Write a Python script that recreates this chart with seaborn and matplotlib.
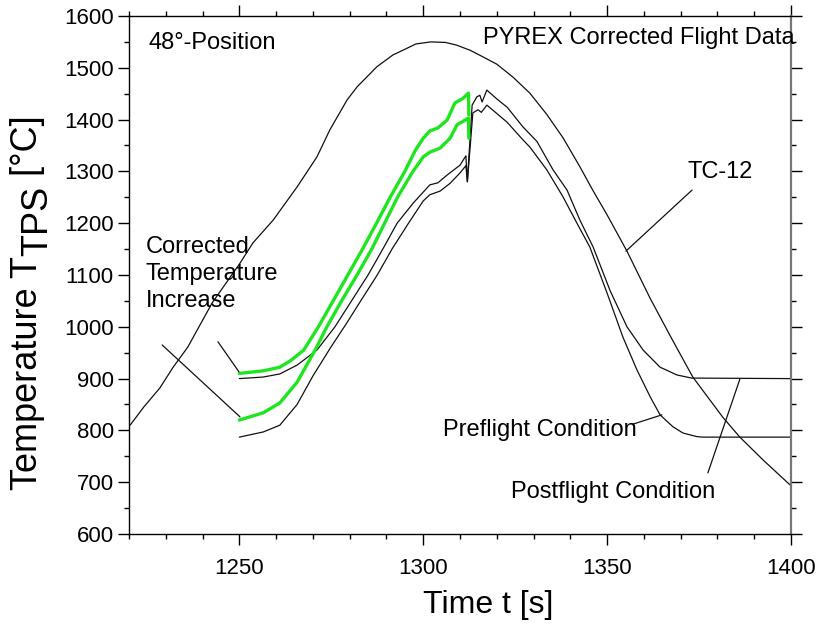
import numpy as np
import pandas as pd
import matplotlib
matplotlib.use('Agg')
import matplotlib.pyplot as plt
import seaborn as sns

# TC-12 thermocouple
tc12_t = [1220.3, 1224, 1228.4, 1232, 1236, 1242.6, 1250.2, 1253.7, 1259.2, 1265.7, 1271.1,
          1274.6, 1279.3, 1282, 1287.4, 1291.8, 1294.5, 1298, 1302, 1306, 1309, 1312.7,
          1316, 1320, 1324.4, 1329, 1333.6, 1338, 1342.6, 1346, 1350, 1355.4, 1361.7, 1367.5,
          1373.3, 1381.5, 1386.1, 1392.4, 1399.7]
tc12_T = [810, 845, 882, 922, 961, 1046, 1123, 1162, 1206, 1270, 1328,
          1380, 1438, 1463, 1502, 1525, 1534, 1546, 1550, 1549, 1544, 1534,
          1522, 1507, 1482, 1451, 1410, 1365, 1309, 1265, 1216, 1146, 1055, 978,
          903, 825, 787, 743, 695]

# postflight condition (black, upper)
post_t = [1250, 1256.5, 1261, 1265.7, 1271.1, 1276, 1280.5, 1285, 1289, 1292.9, 1297.3,
          1301.8, 1304, 1306.5, 1310, 1311.6, 1312, 1313.3, 1314.6, 1315.4, 1316, 1317.3,
          1320, 1322.8, 1324.4, 1327.1, 1330.9, 1335.3, 1339.1, 1342.6, 1346.2, 1350.8,
          1355.4, 1359.8, 1364.4, 1369, 1373, 1400]
post_T = [900, 903, 909, 926, 955, 1000, 1050, 1100, 1150, 1200, 1239,
          1274, 1278, 1293, 1312, 1330, 1280, 1428, 1444, 1447, 1434, 1457,
          1440, 1424, 1410, 1386, 1358, 1303, 1264, 1206, 1154, 1070,
          1000, 955, 922, 907, 901, 900]

# preflight condition (black, lower)
pre_t = [1250, 1256.5, 1261, 1265.7, 1270, 1275, 1279, 1283, 1287.5, 1291.5, 1296,
         1300, 1301.8, 1304.6, 1307.3, 1310, 1311.6, 1312, 1313.5, 1314.9, 1315.8, 1317.3,
         1322.8, 1327.1, 1329, 1333.6, 1338, 1341.8, 1345.3, 1350, 1354.3, 1358.1,
         1361.7, 1364.4, 1367.9, 1370.6, 1374.4, 1376, 1400]
pre_T = [787, 797, 810, 850, 905, 962, 1005, 1050, 1100, 1150, 1200,
         1243, 1255, 1262, 1277, 1297, 1311, 1280, 1413, 1419, 1414, 1428,
         1395, 1361, 1347, 1303, 1251, 1200, 1154, 1065, 980, 917,
         865, 830, 807, 795, 788, 787, 787]

# corrected temperature increase (green)
corr_post_t = [1250, 1256.5, 1261, 1264, 1267.5, 1271.5, 1275.5, 1279.5, 1283.5, 1287.3,
               1291, 1295, 1297.8, 1300, 1301.8, 1304, 1306.5, 1308.6, 1310.8, 1312.3, 1312.4]
corr_post_T = [910, 915, 922, 935, 955, 1000, 1050, 1100, 1150, 1200,
               1250, 1300, 1340, 1364, 1378, 1384, 1399, 1432, 1441, 1451, 1409]
corr_pre_t = [1250, 1256.5, 1261, 1265.7, 1270.6, 1273.8, 1277.8, 1282, 1286, 1289.5,
              1293, 1297.2, 1300, 1301.8, 1304.6, 1307.3, 1309.2, 1311.4, 1312.3, 1312.4]
corr_pre_T = [820, 834, 853, 893, 955, 1000, 1050, 1100, 1150, 1200,
              1250, 1300, 1328, 1337, 1345, 1364, 1390, 1399, 1403, 1364]

sns.set_style('ticks')
plt.rcParams['font.family'] = ['Liberation Sans', 'DejaVu Sans']
plt.rcParams.update({'text.color': 'black', 'axes.labelcolor': 'black',
                     'xtick.color': 'black', 'ytick.color': 'black'})

fig = plt.figure(figsize=(8.17, 6.25), dpi=100)
ax = fig.add_axes([129 / 817, 91 / 625, 662 / 817, 518 / 625])

black = '#111111'
green = '#1ee61e'
curves = [
    (tc12_t, tc12_T, black, 0.9),
    (post_t, post_T, black, 0.9),
    (pre_t, pre_T, black, 0.9),
    (corr_post_t, corr_post_T, green, 2.4),
    (corr_pre_t, corr_pre_T, green, 2.4),
]
for t, T, c, lw in curves:
    d = pd.DataFrame({'t': t, 'T': T})
    sns.lineplot(data=d, x='t', y='T', sort=False, estimator=None, color=c, lw=lw, ax=ax)

ax.set_xlim(1220, 1400)
ax.set_ylim(600, 1600)
ax.set_xticks([1250, 1300, 1350, 1400])
ax.set_xticks(np.arange(1220, 1401, 10), minor=True)
ax.set_yticks(np.arange(600, 1601, 100))
ax.set_yticks(np.arange(650, 1600, 100), minor=True)
ax.tick_params(which='both', direction='out', top=True, right=True, labelsize=16,
               width=1, color='black', labelcolor='black')
ax.tick_params(axis='x', which='major', length=8, pad=9)
ax.tick_params(axis='y', which='major', length=8, pad=3)
ax.tick_params(which='minor', length=3.5)
for s in ax.spines.values():
    s.set_linewidth(1.0)
    s.set_color('black')
ax.spines['right'].set_color('#777777')
ax.spines['right'].set_linewidth(1.6)

ax.set_xlabel('Time t [s]', fontsize=23, va='center')
ax.xaxis.set_label_coords((488 - 129) / 662, (534 - 605) / 518)
ax.set_ylabel('')

# annotations
ann = dict(fontsize=17, color='black')
ax.text(1225.2, 1548, '48°-Position', ha='left', va='center', **ann)
ax.text(1401, 1558, 'PYREX Corrected Flight Data', ha='right', va='center', clip_on=False, **ann)
ax.text(1380.7, 1299, 'TC-12', ha='center', va='center', **ann)
ax.text(1224.6, 1102, 'Corrected\nTemperature\nIncrease', ha='left', va='center',
        linespacing=1.3, **ann)
ax.text(1358, 801, 'Preflight Condition', ha='right', va='center', **ann)
ax.text(1379.3, 681, 'Postflight Condition', ha='right', va='center', **ann)

pointers = [
    ((1373.1, 1264), (1355.1, 1146)),
    ((1244.2, 971), (1249.9, 913)),
    ((1229.0, 965), (1250.2, 826)),
    ((1357.0, 812), (1364.9, 830)),
    ((1377.4, 718), (1386.1, 899)),
]
for (x0, y0), (x1, y1) in pointers:
    ax.plot([x0, x1], [y0, y1], color=black, lw=0.9)

# y label with full-size lowered subscript
fs = 26
renderer = fig.canvas.get_renderer()
y0 = (625 - 490) / 625
x0 = 28 / 817
t1 = fig.text(x0, y0, 'Temperature T', rotation=90, fontsize=fs, ha='center', va='bottom')
bb = t1.get_window_extent(renderer)
t2 = fig.text(x0 + 10 / 817, bb.y1 / fig.bbox.height, 'TPS', rotation=90, fontsize=fs,
              ha='center', va='bottom')
bb2 = t2.get_window_extent(renderer)
fig.text(x0, bb2.y1 / fig.bbox.height, ' [°C]', rotation=90, fontsize=fs,
         ha='center', va='bottom')

fig.savefig('out.png', dpi=100)
